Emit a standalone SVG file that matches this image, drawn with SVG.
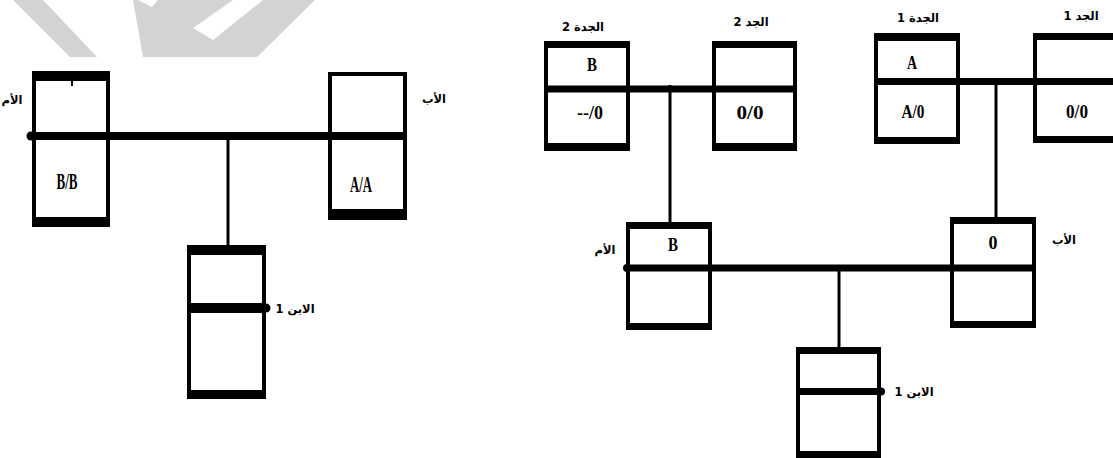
<svg xmlns="http://www.w3.org/2000/svg" width="1113" height="458" viewBox="0 0 1113 458">
<style>
.bx{fill:none;stroke:#000;stroke-width:4}
.bar{fill:#000}
.ln{stroke:#000;fill:none}
.t{font-family:"Liberation Serif","Times New Roman",serif;font-weight:bold;fill:#000;text-anchor:middle}
.ar{font-family:"DejaVu Sans","Noto Sans",sans-serif;font-weight:bold;font-size:11.5px;fill:#000;text-anchor:middle}
.wm{fill:#d3d3d3}
</style>
<g id="watermark">
<polygon class="wm" points="13,0 43,0 97,57 70,57"/>
<polygon class="wm" points="133,0 138,0 152,7 158,0 233,0 193,28 213,40 263,0 315,0 257,57 143,57"/>
</g>
<g id="connectors">
<line class="ln" x1="30" y1="136" x2="407" y2="136" stroke-width="8"/>
<circle cx="31" cy="136" r="4.5" fill="#000"/>
<line class="ln" x1="228" y1="140" x2="228" y2="245" stroke-width="3"/>
<line class="ln" x1="544" y1="89" x2="797" y2="89" stroke-width="7"/>
<line class="ln" x1="670" y1="85" x2="670" y2="223" stroke-width="3"/>
<line class="ln" x1="874" y1="81.5" x2="1113" y2="81.5" stroke-width="7"/>
<line class="ln" x1="996" y1="82" x2="996" y2="218" stroke-width="3"/>
<line class="ln" x1="626" y1="268" x2="1036" y2="268" stroke-width="7"/>
<circle cx="627" cy="268" r="4" fill="#000"/>
<line class="ln" x1="839" y1="268" x2="839" y2="348" stroke-width="3"/>
</g>
<g id="mother-left">
<rect class="bx" x="34" y="73" width="74" height="152"/>
<rect class="bar" x="32" y="71" width="78" height="10"/>
<rect class="bar" x="32" y="217" width="78" height="10"/>
<rect class="bar" x="71" y="80" width="2" height="6"/>
<text class="t" x="67" y="189" font-size="24" textLength="21" lengthAdjust="spacingAndGlyphs">B/B</text>
<text class="ar" x="12" y="104">الأم</text>
</g>
<g id="father-left">
<rect class="bx" x="330" y="74" width="75" height="144"/>
<rect class="bar" x="328" y="209" width="79" height="11"/>
<text class="t" x="361" y="192" font-size="24" textLength="22" lengthAdjust="spacingAndGlyphs">A/A</text>
<text class="ar" x="434" y="103">الأب</text>
</g>
<g id="son-left">
<rect class="bx" x="189" y="247" width="75" height="150"/>
<rect class="bar" x="187" y="245" width="79" height="10"/>
<rect class="bar" x="187" y="303" width="79" height="10"/>
<rect class="bar" x="187" y="390" width="79" height="9"/>
<circle cx="266" cy="308" r="4.5" fill="#000"/>
<text class="ar" x="295" y="313">الابن 1</text>
</g>
<g id="grandmother2">
<rect class="bx" x="546" y="43" width="82" height="106"/>
<rect class="bar" x="544" y="41" width="86" height="7"/>
<rect class="bar" x="544" y="143" width="86" height="8"/>
<text class="t" x="592" y="71" font-size="18" textLength="10" lengthAdjust="spacingAndGlyphs">B</text>
<text class="t" x="590" y="119" font-size="18" textLength="26" lengthAdjust="spacingAndGlyphs">--/0</text>
<text class="ar" x="583" y="31">الجدة 2</text>
</g>
<g id="grandfather2">
<rect class="bx" x="714" y="43" width="81" height="106"/>
<rect class="bar" x="712" y="41" width="85" height="7"/>
<rect class="bar" x="712" y="143" width="85" height="8"/>
<text class="t" x="750" y="119" font-size="18" textLength="27" lengthAdjust="spacingAndGlyphs">0/0</text>
<text class="ar" x="751" y="26">الجد 2</text>
</g>
<g id="grandmother1">
<rect class="bx" x="876" y="35" width="82" height="107"/>
<rect class="bar" x="874" y="33" width="86" height="8"/>
<rect class="bar" x="874" y="137" width="86" height="7"/>
<text class="t" x="912" y="69" font-size="18" textLength="10" lengthAdjust="spacingAndGlyphs">A</text>
<text class="t" x="913" y="118" font-size="18" textLength="23" lengthAdjust="spacingAndGlyphs">A/0</text>
<text class="ar" x="918" y="22">الجدة 1</text>
</g>
<g id="grandfather1">
<rect class="bx" x="1035" y="35" width="90" height="106"/>
<rect class="bar" x="1033" y="33" width="90" height="7"/>
<rect class="bar" x="1033" y="136" width="90" height="7"/>
<text class="t" x="1077" y="118" font-size="18" textLength="22" lengthAdjust="spacingAndGlyphs">0/0</text>
<text class="ar" x="1081" y="20">الجد 1</text>
</g>
<g id="mother-right">
<rect class="bx" x="628" y="224" width="82" height="104"/>
<rect class="bar" x="626" y="222" width="86" height="7"/>
<rect class="bar" x="626" y="323" width="86" height="7"/>
<text class="t" x="673" y="251" font-size="18" textLength="10" lengthAdjust="spacingAndGlyphs">B</text>
<text class="ar" x="605" y="254">الأم</text>
</g>
<g id="father-right">
<rect class="bx" x="952" y="219" width="82" height="107"/>
<rect class="bar" x="950" y="217" width="86" height="7"/>
<rect class="bar" x="950" y="321" width="86" height="7"/>
<text class="t" x="993" y="249" font-size="18" textLength="9" lengthAdjust="spacingAndGlyphs">0</text>
<text class="ar" x="1064" y="244">الأب</text>
</g>
<g id="son-right">
<rect class="bx" x="798" y="349" width="81" height="107"/>
<rect class="bar" x="796" y="347" width="85" height="7"/>
<rect class="bar" x="796" y="388" width="85" height="7"/>
<rect class="bar" x="796" y="451" width="85" height="7"/>
<circle cx="881" cy="391.5" r="4" fill="#000"/>
<text class="ar" x="914" y="396">الابن 1</text>
</g>
</svg>
